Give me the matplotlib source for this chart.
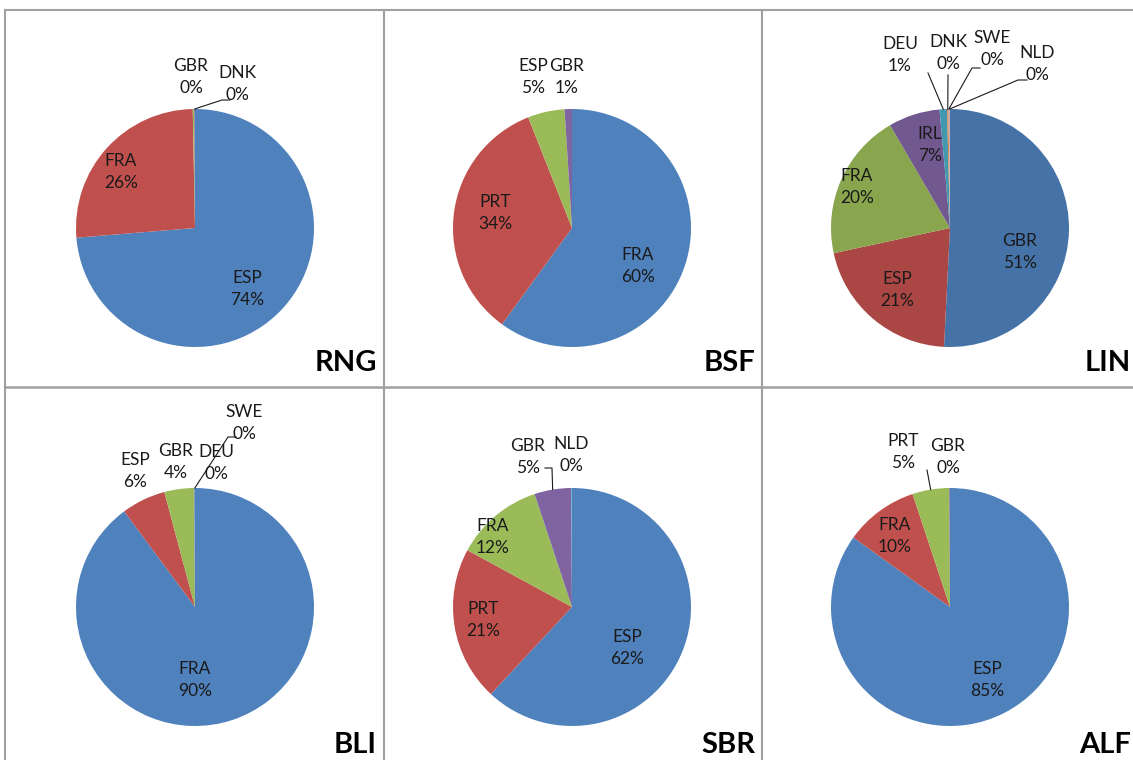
import numpy as np
import matplotlib.pyplot as plt

W, H = 1133, 760
plt.rcParams['font.family'] = ['Lato', 'DejaVu Sans']

std = ['#4F81BD', '#C0504D', '#9BBB59', '#8064A2', '#4BACC6', '#F79646']
dark = ['#4572A7', '#AA4643', '#89A54E', '#71588F', '#4198AF', '#DB843D', '#93A9CF', '#D19392']

# data (percent shares)
rng_names = ['ESP', 'FRA', 'GBR', 'DNK']
rng_vals = [73.7, 26.0, 0.2, 0.1]

bsf_names = ['FRA', 'PRT', 'ESP', 'GBR']
bsf_vals = [60.0, 34.0, 5.0, 1.0]

lin_names = ['GBR', 'ESP', 'FRA', 'IRL', 'DEU', 'DNK', 'SWE', 'NLD']
lin_vals = [50.8, 20.8, 20.0, 7.0, 1.0, 0.2, 0.1, 0.1]

bli_names = ['FRA', 'ESP', 'GBR', 'DEU', 'SWE']
bli_vals = [89.9, 6.0, 4.0, 0.1, 0.05]

sbr_names = ['ESP', 'PRT', 'FRA', 'GBR', 'NLD']
sbr_vals = [62.0, 21.0, 12.0, 5.0, 0.1]

alf_names = ['ESP', 'FRA', 'PRT', 'GBR']
alf_vals = [85.0, 10.0, 5.0, 0.1]

R = 119

# layout: pie centre, label centres (pixels), leader line starts, title spot
panels = [
    dict(title='RNG', names=rng_names, vals=rng_vals, colors=std, center=(195, 228),
         labels=[(247, 289), (121, 172), (191, 77), (237, 84)],
         leaders={'DNK': [(230, 100), (222, 100)]}, title_xy=(377, 363)),
    dict(title='BSF', names=bsf_names, vals=bsf_vals, colors=std, center=(572, 228),
         labels=[(638, 266), (495, 213), (533, 77), (567, 77)],
         leaders={}, title_xy=(755, 363)),
    dict(title='LIN', names=lin_names, vals=lin_vals, colors=dark, center=(950, 228),
         labels=[(1020, 252), (897, 290), (857, 187), (930, 145), (900, 55), (948, 53),
                 (992, 49), (1037, 64)],
         leaders={'DEU': [(928, 73)], 'DNK': [(948, 75)], 'SWE': [(980, 68), (972, 68)],
                  'NLD': [(1027, 80), (1018, 80)]}, title_xy=(1131, 363)),
    dict(title='BLI', names=bli_names, vals=bli_vals, colors=std, center=(195, 607),
         labels=[(195, 680), (135, 471), (176, 462), (216, 463), (244, 423)],
         leaders={'SWE': [(236, 437), (228, 437)]}, title_xy=(377, 745)),
    dict(title='SBR', names=sbr_names, vals=sbr_vals, colors=std, center=(572, 607),
         labels=[(627, 648), (483, 620), (493, 537), (528, 457), (571, 455)],
         leaders={'GBR': [(545, 468), (552, 468)]}, title_xy=(755, 745)),
    dict(title='ALF', names=alf_names, vals=alf_vals, colors=std, center=(950, 607),
         labels=[(987, 680), (895, 536), (903, 452), (948, 457)],
         leaders={'PRT': [(927, 470)]}, title_xy=(1131, 745)),
]

fig = plt.figure(figsize=(W / 100, H / 100), dpi=100)
ax = fig.add_axes([0, 0, 1, 1])

for p in panels:
    cx, cy = p['center']
    vals = p['vals']
    wedges, _ = ax.pie(vals, colors=p['colors'][:len(vals)], startangle=90,
                       counterclock=False, radius=R, center=(cx, H - cy), frame=True,
                       wedgeprops=dict(linewidth=0))
    total = sum(vals)
    for name, v, (lx, ly), w in zip(p['names'], vals, p['labels'], wedges):
        ax.text(lx, H - ly, f"{name}\n{round(v / total * 100):.0f}%", ha='center',
                va='center', fontsize=12.5, linespacing=1.45, color='#1a1a1a')
        if name in p['leaders']:
            mid = np.radians((w.theta1 + w.theta2) / 2)
            pts = p['leaders'][name] + [(cx + R * np.cos(mid), cy - R * np.sin(mid))]
            xs = [q[0] for q in pts]
            ys = [H - q[1] for q in pts]
            ax.plot(xs, ys, color='#1a1a1a', lw=0.8)
    tx, ty = p['title_xy']
    ax.text(tx, H - ty, p['title'], ha='right', va='center', fontsize=21,
            fontweight='bold', color='black')

# cell borders
grid = '#A0A0A0'
ax.plot([5, W], [H - 10, H - 10], color=grid, lw=1.5)
ax.plot([5, W], [H - 387, H - 387], color=grid, lw=1.8)
for x in (5, 384, 762):
    ax.plot([x, x], [0, H - 10], color=grid, lw=1.5)

ax.set_xlim(0, W)
ax.set_ylim(0, H)
ax.set_aspect('auto')
ax.set_axis_off()
fig.savefig('out.png', dpi=100)
